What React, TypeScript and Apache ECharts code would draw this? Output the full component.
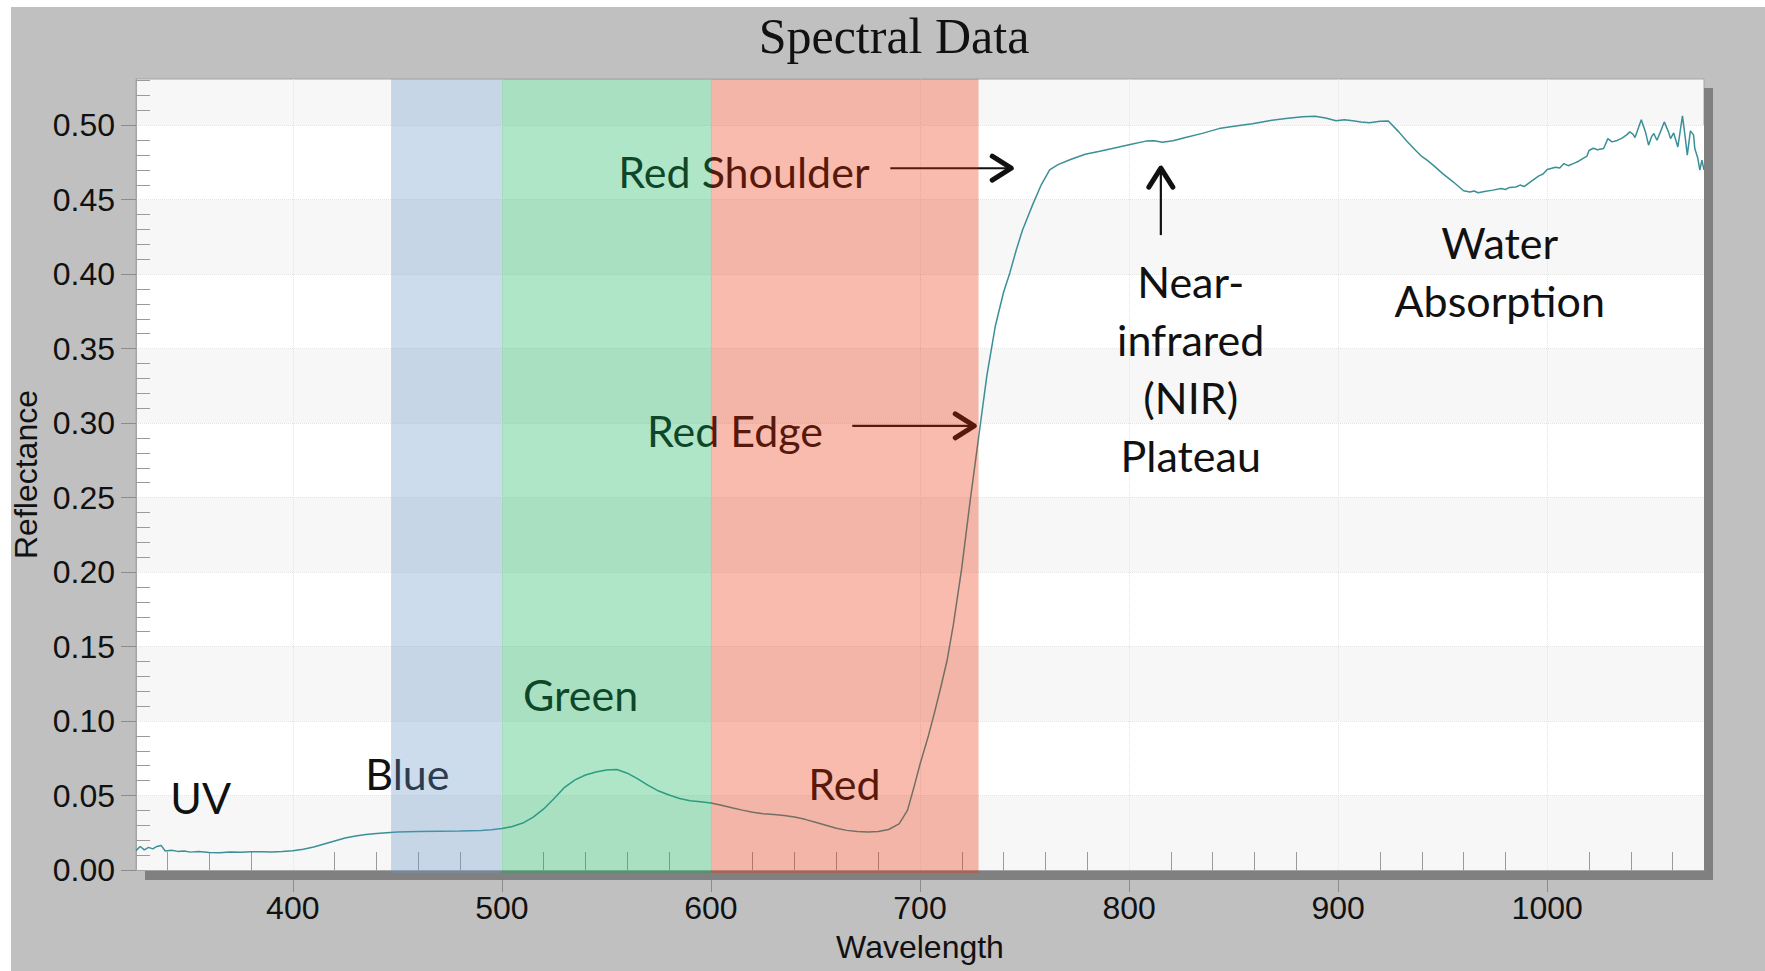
import React, { useEffect, useRef } from 'react';
import * as echarts from 'echarts';

// Spectral curve (wavelength in nm, reflectance)
const wavelengths = [
  325, 327, 329, 331, 333, 335, 337, 339, 342, 345, 348, 351, 355, 360, 365, 370, 375, 380, 385, 390, 395,
  400, 405, 410, 415, 420, 425, 430, 435, 440, 445, 450, 460, 470, 480, 490, 495,
  500, 505, 510, 515, 520, 525, 530, 535, 540, 545, 550, 555, 560, 565, 570, 575, 580, 585, 590, 595,
  600, 605, 610, 615, 620, 625, 630, 635, 640, 645, 650, 655, 660, 665, 670, 675, 680, 685, 690, 694, 697,
  700, 704, 707, 710, 713, 716, 720, 724, 728, 732, 736, 740, 743, 746, 749, 754, 758, 762, 766, 772, 779, 786, 792,
  800, 808, 812, 816, 821, 827, 835, 843, 851, 859, 867, 875, 883, 889, 894, 899,
  903, 907, 911, 915, 920, 924, 929, 933, 937, 940, 943, 946, 950, 955, 960, 963, 965, 967, 970, 974, 978, 980, 982, 985, 987, 989, 992, 996, 998,
  1000, 1004, 1006, 1008, 1010, 1013, 1015, 1017, 1019, 1020, 1022, 1024, 1027, 1029, 1031, 1033, 1036, 1038, 1039.5, 1041, 1042,
  1045, 1047, 1048.5, 1050, 1051, 1052.5, 1054, 1056, 1058, 1059, 1060.5, 1062.5, 1064.7, 1066, 1067, 1068.5, 1070, 1070.6, 1072, 1073, 1074, 1075,
];
const reflectance = [
  0.013, 0.0158, 0.0135, 0.0152, 0.0142, 0.0158, 0.0165, 0.0128, 0.0132, 0.0125, 0.0127, 0.012, 0.0125, 0.0118, 0.0115, 0.0121, 0.0119, 0.0122, 0.0123, 0.0121, 0.0125,
  0.013, 0.014, 0.0155, 0.0175, 0.0195, 0.0215, 0.0228, 0.0238, 0.0245, 0.025, 0.0255, 0.0258, 0.026, 0.0262, 0.0265, 0.027,
  0.0278, 0.0292, 0.0315, 0.0355, 0.041, 0.048, 0.0555, 0.0605, 0.0638, 0.0658, 0.0672, 0.0675, 0.065, 0.0612, 0.0568, 0.053, 0.0503, 0.048, 0.0465, 0.0458,
  0.045, 0.0435, 0.0418, 0.0402, 0.0388, 0.0378, 0.0372, 0.0366, 0.0356, 0.034, 0.032, 0.03, 0.028, 0.0266, 0.0258, 0.0255, 0.0258, 0.0272, 0.031, 0.04, 0.055,
  0.071, 0.09, 0.106, 0.123, 0.141, 0.165, 0.203, 0.248, 0.29, 0.332, 0.365, 0.388, 0.401, 0.416, 0.4295, 0.447, 0.46, 0.47, 0.4735, 0.477, 0.4805, 0.4825, 0.4843,
  0.4868, 0.4893, 0.4896, 0.4886, 0.4895, 0.4917, 0.4945, 0.4977, 0.4995, 0.501, 0.503, 0.5045, 0.5056, 0.506, 0.5048, 0.503,
  0.5036, 0.503, 0.5022, 0.5017, 0.5026, 0.5028, 0.4955, 0.489, 0.4832, 0.479, 0.476, 0.4725, 0.4675, 0.462, 0.456, 0.4552, 0.4558, 0.4546, 0.4555, 0.4564, 0.4575, 0.4568, 0.4582, 0.4585, 0.4598, 0.4588, 0.462, 0.466, 0.4672,
  0.4702, 0.4718, 0.4712, 0.4742, 0.4728, 0.4745, 0.4758, 0.4776, 0.4792, 0.483, 0.4845, 0.4835, 0.4843, 0.491, 0.4888, 0.4895, 0.4915, 0.4935, 0.4955, 0.494, 0.4917,
  0.5037, 0.4955, 0.4866, 0.4925, 0.4944, 0.4899, 0.495, 0.5022, 0.4955, 0.491, 0.4948, 0.4854, 0.5063, 0.492, 0.4799, 0.4962, 0.4935, 0.4843, 0.478, 0.4698, 0.4765, 0.47,
];

// Axis ticks
const xTickValues = [400, 500, 600, 700, 800, 900, 1000];
const yTickValues = [0, 0.05, 0.1, 0.15, 0.2, 0.25, 0.3, 0.35, 0.4, 0.45, 0.5];
const X_MIN = 325;
const X_MAX = 1075;
const Y_MAX = 0.531;

// Spectral bands (nm)
const bandNames = ['Blue', 'Green', 'Red'];
const bandStart = [447, 500, 600];
const bandEnd = [500, 600, 728];
const bandColors = ['rgba(100,150,200,0.33)', 'rgba(15,178,89,0.33)', 'rgba(235,45,0,0.32)'];

// Annotations (anchor in data coordinates)
const labelTexts = ['UV', 'Blue', 'Green', 'Red', 'Red Shoulder', 'Red Edge', 'Near-\ninfrared\n(NIR)\nPlateau', 'Water\nAbsorption'];
const labelX = [341.4, 434.7, 510.1, 646.5, 555.7, 569.4, 829.5, 977.3];
const labelY = [0.0485, 0.0651, 0.1181, 0.0584, 0.4687, 0.2953, 0.3366, 0.402];
const labelAlign = ['left', 'left', 'left', 'left', 'left', 'left', 'center', 'center'];

const arrowX0 = [685.8, 667.6, 815.2];
const arrowY0 = [0.4711, 0.2982, 0.4262];
const arrowX1 = [744.6, 726.9, 815.2];
const arrowY1 = [0.4711, 0.2982, 0.4725];

// minor tick positions (every 20 nm / 0.01 between the labelled ticks)
const xMinorTicks: number[] = [];
for (let v = 340; v < X_MAX; v += 20) if (v % 100 !== 0) xMinorTicks.push(v);
const yMinorTicks: number[] = [];
for (let k = 1; k <= 53; k++) if (k % 5 !== 0) yMinorTicks.push(k / 100);

const GRID = { left: 136, top: 79, width: 1568, height: 791 };
const AXIS_FONT = 'Liberation Sans';

export default function App() {
  const ref = useRef<HTMLDivElement>(null);
  useEffect(() => {
    if (!ref.current) return;
    const chart = echarts.init(ref.current, undefined, { renderer: 'svg' });
    const curve = wavelengths.map((w, i) => [w, reflectance[i]]);
    const gx = GRID.left, gy = GRID.top, gw = GRID.width, gh = GRID.height;
    chart.setOption({
      animation: false,
      backgroundColor: 'transparent',
      title: {
        text: 'Spectral Data',
        left: 889,
        textAlign: 'center',
        top: 6,
        textStyle: { fontFamily: 'Liberation Serif', fontSize: 50, fontWeight: 'normal', color: '#111' },
      },
      graphic: [
        { type: 'rect', shape: { x: gx + 9, y: gy + gh, width: gw, height: 10 }, style: { fill: '#808080' }, z: 0 },
        { type: 'rect', shape: { x: gx + gw, y: gy + 9, width: 9, height: gh + 1 }, style: { fill: '#808080' }, z: 0 },
      ],
      grid: {
        left: gx, top: gy, width: gw, height: gh,
        show: true, backgroundColor: '#f7f7f7', borderColor: '#a4a4a4', borderWidth: 1,
      },
      xAxis: [
        {
          type: 'value', min: X_MIN, max: X_MAX, position: 'bottom', offset: 10,
          splitNumber: 8, minInterval: 100, maxInterval: 100,
          axisLine: { show: false, onZero: false },
          axisTick: { show: true, customValues: xTickValues, length: 12, lineStyle: { color: '#8c8c8c' } },
          axisLabel: {
            customValues: xTickValues, margin: 12, fontSize: 32, fontFamily: AXIS_FONT, color: '#111',
            formatter: (v: number) => String(v),
          },
          splitLine: { show: true, lineStyle: { color: '#e4e4e4', type: 'dotted', width: 1 } },
          name: 'Wavelength', nameLocation: 'middle', nameGap: 51,
          nameTextStyle: { fontSize: 32, fontFamily: AXIS_FONT, color: '#111' },
        },
        {
          type: 'value', min: X_MIN, max: X_MAX, position: 'bottom', offset: 0,
          axisLine: { show: true, onZero: false, lineStyle: { color: '#a4a4a4' } },
          axisTick: { show: true, inside: true, customValues: xMinorTicks, length: 18, lineStyle: { color: '#9a9a9a' } },
          axisLabel: { show: false },
          splitLine: { show: false },
        },
      ],
      yAxis: [
        {
          type: 'value', min: 0, max: Y_MAX, position: 'left',
          minInterval: 0.05, maxInterval: 0.05,
          axisLine: { show: true, lineStyle: { color: '#a4a4a4' } },
          axisTick: { show: true, customValues: yTickValues, length: 15, lineStyle: { color: '#8c8c8c' } },
          axisLabel: {
            customValues: yTickValues, margin: 21, fontSize: 32, fontFamily: AXIS_FONT, color: '#111',
            formatter: (v: number) => v.toFixed(2),
          },
          splitLine: { show: true, lineStyle: { color: '#e4e4e4', type: 'dotted', width: 1 } },
          splitArea: { show: true, areaStyle: { color: ['#f7f7f7', '#ffffff'] } },
          name: 'Reflectance', nameLocation: 'middle', nameGap: 86,
          nameTextStyle: { fontSize: 32, fontFamily: AXIS_FONT, color: '#111' },
        },
        {
          type: 'value', min: 0, max: Y_MAX, position: 'left',
          axisLine: { show: false },
          axisTick: { show: true, inside: true, customValues: yMinorTicks, length: 14, lineStyle: { color: '#9a9a9a' } },
          axisLabel: { show: false },
          splitLine: { show: false },
        },
      ],
      series: [
        {
          type: 'line', name: 'Reflectance', xAxisIndex: 0, yAxisIndex: 0, z: 2,
          data: curve, showSymbol: false, symbol: 'none',
          lineStyle: { color: '#3a9096', width: 1.5 },
        },
        {
          type: 'custom', name: 'labels', xAxisIndex: 0, yAxisIndex: 0, z: 2, silent: true,
          data: labelTexts.map((_, i) => [labelX[i], labelY[i]]),
          renderItem: (params: any, api: any) => {
            const i = params.dataIndex;
            const p = api.coord([labelX[i], labelY[i]]);
            return {
              type: 'text', x: p[0], y: p[1],
              style: {
                text: labelTexts[i], fill: '#111', fontSize: 43, fontFamily: 'Lato',
                align: labelAlign[i], verticalAlign: 'middle', lineHeight: 58,
              },
            };
          },
        },
        {
          type: 'custom', name: 'arrows', xAxisIndex: 0, yAxisIndex: 0, z: 2, silent: true,
          data: arrowX0.map((_, i) => [arrowX1[i], arrowY1[i]]),
          renderItem: (params: any, api: any) => {
            const i = params.dataIndex;
            const a = api.coord([arrowX0[i], arrowY0[i]]);
            const b = api.coord([arrowX1[i], arrowY1[i]]);
            const dx = b[0] - a[0], dy = b[1] - a[1];
            const len = Math.hypot(dx, dy) || 1;
            const ux = dx / len, uy = dy / len;
            const L = 21, W = 12;
            const h1 = [b[0] - ux * L - uy * W, b[1] - uy * L + ux * W];
            const h2 = [b[0] - ux * L + uy * W, b[1] - uy * L - ux * W];
            return {
              type: 'group',
              children: [
                { type: 'line', shape: { x1: a[0], y1: a[1], x2: b[0] - ux * 3, y2: b[1] - uy * 3 }, style: { stroke: '#111', lineWidth: 2.2 } },
                { type: 'polyline', shape: { points: [h1, [b[0] - ux * 2, b[1] - uy * 2], h2] }, style: { stroke: '#111', fill: null, lineWidth: 5, lineJoin: 'round', lineCap: 'round' } },
              ],
            };
          },
        },
        {
          type: 'custom', name: 'bands', xAxisIndex: 0, yAxisIndex: 0, z: 3, silent: true,
          data: bandNames.map((_, i) => [bandStart[i], bandEnd[i]]),
          encode: { x: [0, 1] },
          renderItem: (params: any, api: any) => {
            const i = params.dataIndex;
            const x0 = api.coord([bandStart[i], 0])[0];
            const x1 = api.coord([bandEnd[i], 0])[0];
            const cs = params.coordSys;
            return {
              type: 'rect',
              shape: { x: x0, y: cs.y, width: x1 - x0, height: cs.height + 3 },
              style: { fill: bandColors[i] },
            };
          },
        },
      ],
    });
    return () => chart.dispose();
  }, []);

  return (
    <div style={{ position: 'absolute', left: 0, top: 0, width: 1765, height: 971, background: '#ffffff', overflow: 'hidden' }}>
      <div style={{ position: 'absolute', left: 11, top: 7, right: 0, bottom: 0, background: '#c0c0c0' }} />
      <div ref={ref} style={{ position: 'absolute', left: 0, top: 0, width: 1765, height: 971 }} />
    </div>
  );
}
